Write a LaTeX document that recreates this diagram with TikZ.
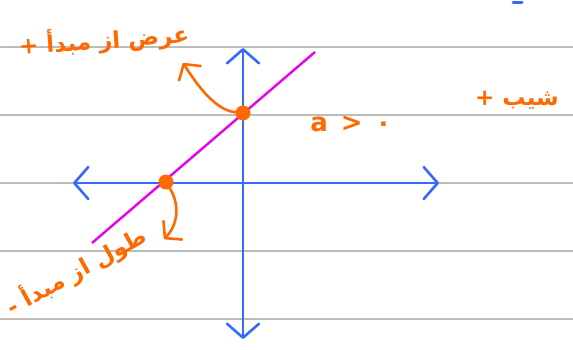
\documentclass[tikz,border=0pt]{standalone}
\usepackage{fontspec}
\usepackage{tikz}
\usetikzlibrary{arrows.meta}
\TeXXeTstate=1
\newfontfamily\farsi[Script=Arabic]{DejaVu Sans}
\newfontfamily\plainsans{DejaVu Sans}
\definecolor{penblue}{RGB}{55,105,255}
\definecolor{penorange}{RGB}{255,105,0}
\definecolor{penmagenta}{RGB}{235,0,235}
\definecolor{rulegray}{RGB}{188,188,188}
\tikzset{
  ruleline/.style={draw=rulegray, line width=1.3pt},
  axisline/.style={penblue, line width=2.6pt, line cap=round,
    {Straight Barb[round, length=14pt, width=32pt]}-{Straight Barb[round, length=14pt, width=32pt]}},
  graphline/.style={penmagenta, line width=2.4pt},
  dotmark/.style={circle, fill=penorange, inner sep=0pt, minimum size=15pt},
  pointer/.style={penorange, line width=2.6pt, line cap=round, -{Straight Barb[round, length=11pt, width=26pt]}},
  handnote/.style={text=penorange, font=\farsi\bfseries\fontsize{23}{27}\selectfont, inner sep=1pt}
}

\begin{document}
\begin{tikzpicture}[x=1pt, y=-1pt]
  \useasboundingbox (0,0) rectangle (573,349);
  % ruled paper
  \foreach \y in {47,115,183,251,319}
    \draw[ruleline] (0,\y) -- (573,\y);
  \draw[penblue, line width=3pt, line cap=round] (513,2) -- (522,2);

  % axes
  \coordinate (xleft) at (73,183);
  \coordinate (xright) at (439,183);
  \coordinate (ytop) at (243,48);
  \coordinate (ybottom) at (243,339);
  \draw[axisline] (xleft) -- (xright);
  \draw[axisline] (ybottom) -- (ytop);

  % the line and its intercepts
  \coordinate (lineA) at (92,243);
  \coordinate (lineB) at (315,52);
  \draw[graphline] (lineA) -- (lineB);
  \node[dotmark] (yint) at (243,113) {};
  \node[dotmark] (xint) at (166,182) {};

  % notes
  \node[handnote, rotate=4] (ynote) at (104,40) {\beginR عرض از مبدأ +\endR};
  \node[handnote, rotate=29] (xnote) at (76,271) {\beginR طول از مبدأ -\endR};
  \node[handnote] (slopenote) at (517,100) {\beginR شیب +\endR};
  \node[handnote, font=\plainsans\bfseries\fontsize{26}{30}\selectfont] (signnote) at (351,124) {a\enspace>\enspace۰};
  \coordinate (uptip) at (183,63);
  \coordinate (downtip) at (164,239);
  \draw[pointer] (yint) .. controls (212,110) and (191,75) .. (uptip);
  \draw[pointer] (xint) .. controls (180,205) and (178,225) .. (downtip);
\end{tikzpicture}
\end{document}
